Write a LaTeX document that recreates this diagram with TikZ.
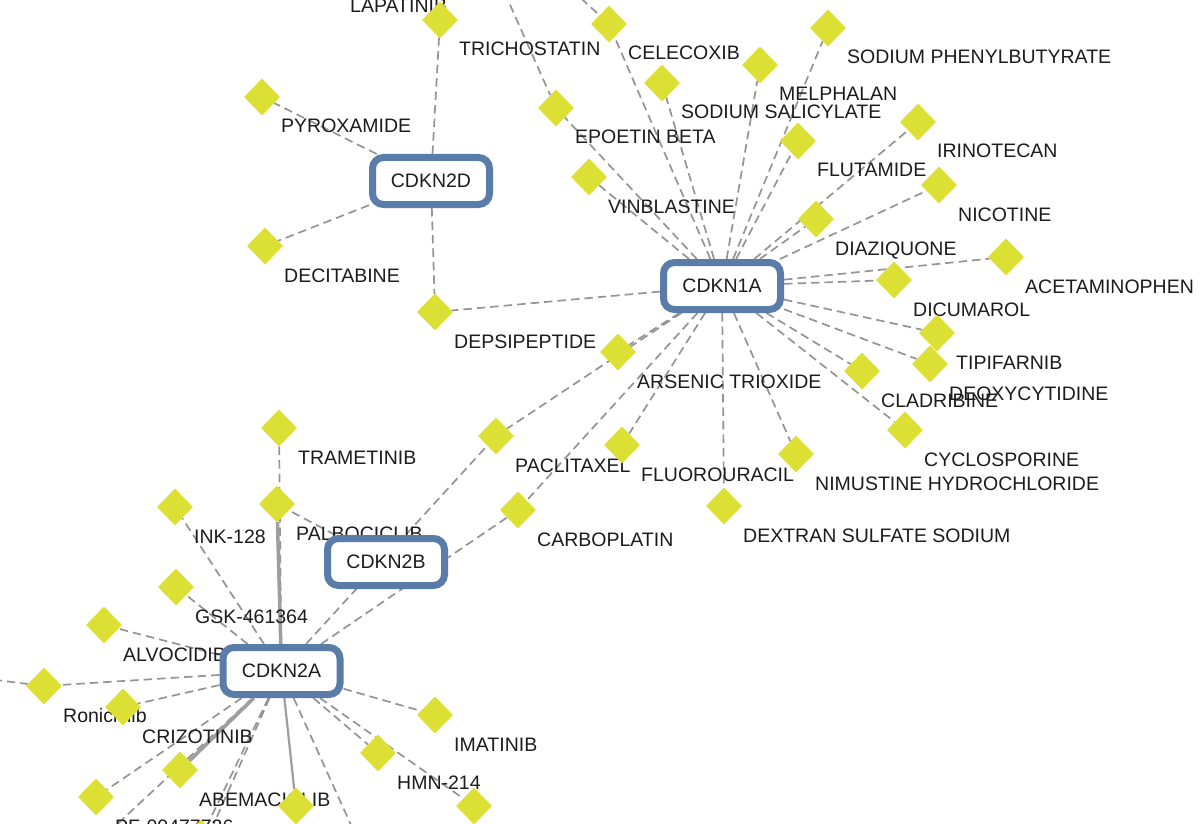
\documentclass[tikz,border=0pt]{standalone}
\usepackage{fontspec}
\setmainfont{Liberation Sans}
\usetikzlibrary{shapes.geometric}
\definecolor{drugfill}{RGB}{221,224,52}
\definecolor{genebdr}{RGB}{90,124,168}
\definecolor{edgegray}{RGB}{148,148,148}
\definecolor{solidgray}{RGB}{158,158,158}
\definecolor{txt}{RGB}{28,28,28}
\pgfdeclarelayer{bglayer}
\pgfdeclarelayer{edgelayer}
\pgfdeclarelayer{labellayer}
\pgfsetlayers{bglayer,edgelayer,labellayer,main}
\newcommand\drugnode[4]{%
  \node[drug] (#1) at (#2,#3) {};
  \begin{pgfonlayer}{labellayer}\node[lbl] (#1-l) at (#2+19,#3+36) {#4};\end{pgfonlayer}}
\begin{document}
\begin{tikzpicture}[x=1pt,y=-1pt,
  drug/.style={shape=diamond, fill=drugfill, draw=none, minimum width=36pt, minimum height=37pt, inner sep=0pt},
  gene/.style={draw=genebdr, line width=7pt, fill=white, rounded corners=11pt, minimum width=117pt, minimum height=47pt, inner sep=0pt, font=\fontsize{19.5}{22}\selectfont, text=txt},
  lbl/.style={anchor=base west, inner sep=0pt, font=\fontsize{19.5}{22}\selectfont, text=txt},
  edge/.style={draw=edgegray, line width=1.7pt, dash pattern=on 8.5pt off 5pt},
  sedge/.style={draw=solidgray, line width=3.5pt},
]
\begin{pgfonlayer}{bglayer}
\fill[white] (0,0) rectangle (1200,824);
\end{pgfonlayer}
\useasboundingbox (0,0) rectangle (1200,824);

% gene nodes
\node[gene] (g2d) at (431,181) {CDKN2D};
\node[gene] (g1a) at (722,286) {CDKN1A};
\node[gene] (g2b) at (386,562) {CDKN2B};
\node[gene] (g2a) at (281.5,671) {CDKN2A};

% drug nodes
\drugnode{lap}{331}{-23}{LAPATINIB}
\drugnode{tri}{440}{20}{TRICHOSTATIN}
\drugnode{pyr}{262}{97}{PYROXAMIDE}
\drugnode{dec}{265}{246}{DECITABINE}
\drugnode{dep}{435}{312}{DEPSIPEPTIDE}
\drugnode{epo}{556}{108}{EPOETIN BETA}
\drugnode{cel}{609}{24}{CELECOXIB}
\drugnode{ssal}{662}{83}{SODIUM SALICYLATE}
\drugnode{mel}{760}{65}{MELPHALAN}
\drugnode{spb}{828}{28}{SODIUM PHENYLBUTYRATE}
\drugnode{vin}{589}{177}{VINBLASTINE}
\drugnode{flu}{798}{141}{FLUTAMIDE}
\drugnode{iri}{918}{122}{IRINOTECAN}
\drugnode{nic}{939}{185}{NICOTINE}
\drugnode{dia}{816}{219}{DIAZIQUONE}
\drugnode{ace}{1006}{257}{ACETAMINOPHEN}
\drugnode{dic}{894}{280}{DICUMAROL}
\drugnode{tip}{937}{333}{TIPIFARNIB}
\drugnode{deo}{930}{364}{DEOXYCYTIDINE}
\drugnode{cla}{862}{371}{CLADRIBINE}
\drugnode{cyc}{905}{430}{CYCLOSPORINE}
\drugnode{nim}{796}{454}{NIMUSTINE HYDROCHLORIDE}
\drugnode{dex}{724}{506}{DEXTRAN SULFATE SODIUM}
\drugnode{fluo}{622}{445}{FLUOROURACIL}
\drugnode{ars}{618}{352}{ARSENIC TRIOXIDE}
\drugnode{pac}{496}{436}{PACLITAXEL}
\drugnode{car}{518}{510}{CARBOPLATIN}
\drugnode{tra}{279}{428}{TRAMETINIB}
\drugnode{pal}{277}{504}{PALBOCICLIB}
\drugnode{ink}{175}{507}{INK-128}
\drugnode{gsk}{176}{587}{GSK-461364}
\drugnode{alv}{104}{625}{ALVOCIDIB}
\drugnode{ron}{44}{686}{Roniciclib}
\drugnode{cri}{123}{707}{CRIZOTINIB}
\drugnode{abe}{180}{770}{ABEMACICLIB}
\drugnode{pf}{96}{797}{PF-00477736}
\drugnode{hmn}{378}{753}{HMN-214}
\drugnode{imat}{435}{715}{IMATINIB}
\node[drug] (bt1) at (201,838) {};
\node[drug] (dsix) at (296,806) {};
\node[drug] (dsev) at (474,806) {};

% off-picture ends
\coordinate (offE) at (499,-20);
\coordinate (offC) at (561,-20);
\coordinate (offR) at (-20,678);
\coordinate (offB) at (96,844);
\coordinate (offF) at (189,880);
\coordinate (offG) at (360,845);

\begin{pgfonlayer}{edgelayer}
\foreach \d in {tri,pyr,dec,dep} \draw[edge] (g2d) -- (\d);
\foreach \d in {dep,epo,cel,ssal,mel,spb,vin,flu,iri,nic,dia,ace,dic,tip,deo,cla,cyc,nim,dex,fluo,ars,pac,car}
  \draw[edge] (g1a) -- (\d);
\foreach \d in {tra,ink,gsk,alv,ron,cri,pf,pac,car,bt1,offB,offF,offG,hmn,dsev,imat}
  \draw[edge] (g2a) -- (\d);
\draw[edge] (g2b) -- (pal);
\draw[edge] (offE) -- (epo);
\draw[edge] (offC) -- (cel);
\draw[edge] (offR) -- (ron);
\draw[sedge] (g2a) -- (pal);
\draw[sedge] (g2a) -- (abe);
\draw[draw=solidgray, line width=2.2pt] (g2a) -- (dsix);
\end{pgfonlayer}
\end{tikzpicture}
\end{document}
